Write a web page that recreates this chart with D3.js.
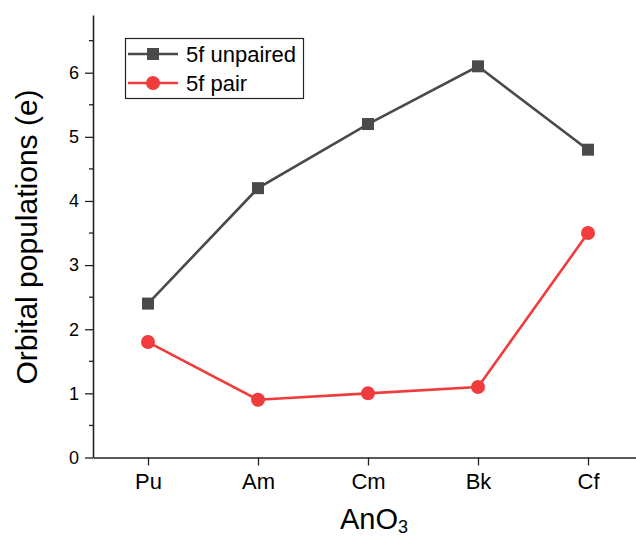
<!DOCTYPE html>
<html><head><meta charset="utf-8">
<script src="https://cdn.jsdelivr.net/npm/d3@7"></script>
<style>body{margin:0;background:#fff}svg{display:block}text{font-family:"Liberation Sans",Arial,sans-serif;fill:#000}</style>
</head><body>
<svg id="c" width="636" height="538"></svg>
<script>
const categories = ["Pu","Am","Cm","Bk","Cf"];
const unpaired = [2.4, 4.2, 5.2, 6.1, 4.8];
const pair = [1.8, 0.9, 1.0, 1.1, 3.5];
const seriesNames = ["5f unpaired", "5f pair"];
const yTicks = [0,1,2,3,4,5,6];
const yMinor = [0.5,1.5,2.5,3.5,4.5,5.5,6.5];

const svg = d3.select("#c");
const x = d3.scaleLinear().domain([-0.5, 4.5]).range([93, 643]);
const y = d3.scaleLinear().domain([0, 6.9]).range([457.5, 15]);
const gray = "#4a4a4a", red = "#f03c3c";

// y axis
const ya = svg.append("g").attr("transform","translate(93,0)")
  .call(d3.axisLeft(y).tickValues(yTicks).tickFormat(d3.format("d")).tickSize(8).tickPadding(6).tickSizeOuter(0));
ya.select(".domain").attr("stroke","#222").attr("stroke-width",1.6);
ya.selectAll(".tick line").attr("stroke","#222").attr("stroke-width",1.3);
ya.selectAll(".tick text").style("font-size","18px").attr("font-family","Liberation Sans, Arial, sans-serif");
svg.append("g").selectAll("line").data(yMinor).join("line")
  .attr("x1",89).attr("x2",93).attr("y1",d=>y(d)).attr("y2",d=>y(d))
  .attr("stroke","#222").attr("stroke-width",1.3);

// x axis
const xa = svg.append("g").attr("transform","translate(0,457.5)")
  .call(d3.axisBottom(x).tickValues(d3.range(categories.length)).tickFormat(i=>categories[i]).tickSize(8).tickPadding(8).tickSizeOuter(0));
xa.select(".domain").attr("stroke","#222").attr("stroke-width",1.6);
xa.selectAll(".tick line").attr("stroke","#222").attr("stroke-width",1.3);
xa.selectAll(".tick text").style("font-size","22px").attr("font-family","Liberation Sans, Arial, sans-serif");

// titles
svg.append("text").attr("transform","translate(37,237) rotate(-90)").attr("text-anchor","middle")
  .style("font-size","30px").text("Orbital populations (e)");
const xt = svg.append("text").attr("x",374).attr("y",529).attr("text-anchor","middle").style("font-size","29px");
xt.append("tspan").text("AnO");
xt.append("tspan").attr("dy",4).style("font-size","18px").text("3");

// lines
const line = d3.line().x((d,i)=>x(i)).y(d=>y(d));
svg.append("path").datum(unpaired).attr("d",line).attr("fill","none").attr("stroke",gray).attr("stroke-width",2.6);
svg.append("path").datum(pair).attr("d",line).attr("fill","none").attr("stroke",red).attr("stroke-width",2.6);
svg.append("g").selectAll("rect").data(unpaired).join("rect")
  .attr("x",(d,i)=>x(i)-6).attr("y",d=>y(d)-6).attr("width",12).attr("height",12).attr("fill",gray);
svg.append("g").selectAll("circle").data(pair).join("circle")
  .attr("cx",(d,i)=>x(i)).attr("cy",d=>y(d)).attr("r",7).attr("fill",red);

// legend
const lg = svg.append("g");
lg.append("rect").attr("x",125.5).attr("y",38.5).attr("width",178).attr("height",60)
  .attr("fill","#fff").attr("stroke","#222").attr("stroke-width",1.2);
const rows = [{n:seriesNames[0],c:gray,m:"s",y:54},{n:seriesNames[1],c:red,m:"c",y:83}];
rows.forEach(r=>{
  lg.append("line").attr("x1",128).attr("x2",178).attr("y1",r.y).attr("y2",r.y).attr("stroke",r.c).attr("stroke-width",2.6);
  if(r.m==="s") lg.append("rect").attr("x",147).attr("y",r.y-6).attr("width",12).attr("height",12).attr("fill",r.c);
  else lg.append("circle").attr("cx",153).attr("cy",r.y).attr("r",7).attr("fill",r.c);
  lg.append("text").attr("x",186).attr("y",r.y+8).style("font-size","22px").text(r.n);
});
</script>
</body></html>
